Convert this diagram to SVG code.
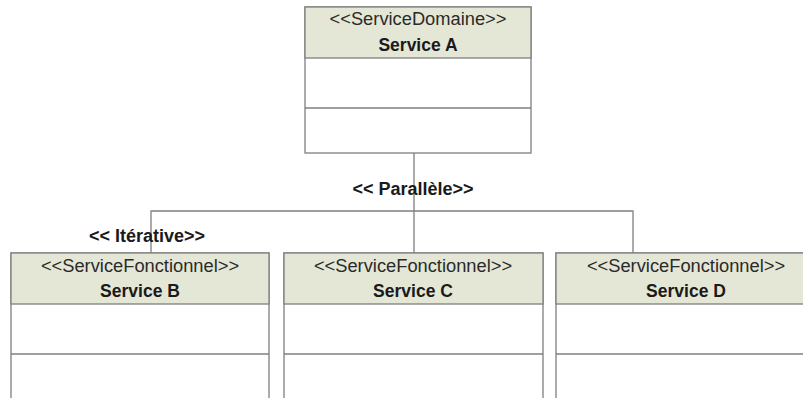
<svg xmlns="http://www.w3.org/2000/svg" width="803" height="398" viewBox="0 0 803 398">
<style>
.box{fill:#ffffff;stroke:#7f7f7f;stroke-width:1.3}
.hdr{fill:#e4e7d6;stroke:#7f7f7f;stroke-width:1.3}
.div{stroke:#7f7f7f;stroke-width:1.3}
.st{font-family:"Liberation Sans",Arial,sans-serif;font-size:18.3px;fill:#2a2a2a;text-anchor:middle}
.nm{font-family:"Liberation Sans",Arial,sans-serif;font-size:17.5px;font-weight:bold;fill:#1a1a1a;text-anchor:middle}
.lbl{font-family:"Liberation Sans",Arial,sans-serif;font-size:18px;font-weight:bold;fill:#1a1a1a;text-anchor:middle}
.con{fill:none;stroke:#7f7f7f;stroke-width:1.3}
</style>
<rect width="803" height="398" fill="#ffffff"/>
<g id="connectors">
<polyline class="con" points="414,153 414,253"/>
<polyline class="con" points="151,253 151,211 633,211 633,253"/>
</g>
<g id="serviceA">
<rect class="box" x="305" y="7" width="226" height="146"/>
<rect class="hdr" x="305" y="7" width="226" height="51"/>
<line class="div" x1="305" y1="108" x2="531" y2="108"/>
<text class="st" x="418" y="25">&lt;&lt;ServiceDomaine&gt;&gt;</text>
<text class="nm" x="418" y="51">Service A</text>
</g>
<g id="serviceB">
<rect class="box" x="11" y="253" width="258" height="160"/>
<rect class="hdr" x="11" y="253" width="258" height="51"/>
<line class="div" x1="11" y1="354" x2="269" y2="354"/>
<text class="st" x="140" y="272">&lt;&lt;ServiceFonctionnel&gt;&gt;</text>
<text class="nm" x="140" y="297">Service B</text>
</g>
<g id="serviceC">
<rect class="box" x="284" y="253" width="259" height="160"/>
<rect class="hdr" x="284" y="253" width="259" height="51"/>
<line class="div" x1="284" y1="354" x2="543" y2="354"/>
<text class="st" x="413" y="272">&lt;&lt;ServiceFonctionnel&gt;&gt;</text>
<text class="nm" x="413" y="297">Service C</text>
</g>
<g id="serviceD">
<rect class="box" x="556" y="253" width="260" height="160"/>
<rect class="hdr" x="556" y="253" width="260" height="51"/>
<line class="div" x1="556" y1="354" x2="816" y2="354"/>
<text class="st" x="686" y="272">&lt;&lt;ServiceFonctionnel&gt;&gt;</text>
<text class="nm" x="686" y="297">Service D</text>
</g>
<g id="labels">
<text class="lbl" x="413" y="195">&lt;&lt; Parallèle&gt;&gt;</text>
<text class="lbl" x="147" y="242">&lt;&lt; Itérative&gt;&gt;</text>
</g>
</svg>
